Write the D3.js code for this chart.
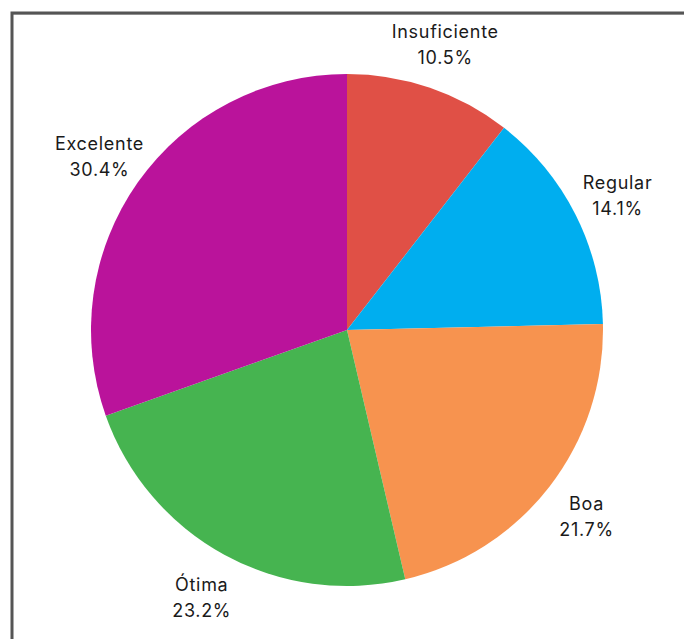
<!DOCTYPE html>
<html><head><meta charset="utf-8">
<script src="https://cdn.jsdelivr.net/npm/d3@7"></script>
<style>html,body{margin:0;padding:0;background:#fff;}svg{display:block;}</style>
</head><body>
<script>
const categories = ["Insuficiente", "Regular", "Boa", "Ótima", "Excelente"];
const values = [10.5, 14.1, 21.7, 23.2, 30.4];
const valueLabels = ["10.5%", "14.1%", "21.7%", "23.2%", "30.4%"];
const colors = ["#E05046", "#00AEEF", "#F7934F", "#46B450", "#BA139B"];

const W = 684, H = 639;
const cx = 347, cy = 330, R = 256, LR = 303;
const svg = d3.select("body").append("svg").attr("width", W).attr("height", H);

// frame
svg.append("line").attr("x1", 12).attr("x2", W).attr("y1", 14.5).attr("y2", 14.5).attr("stroke", "#c8c8c8").attr("stroke-width", 1);
svg.append("path").attr("d", `M12,${H} L12,13 L${W},13`).attr("fill", "none").attr("stroke", "#555").attr("stroke-width", 3);

const data = categories.map((c, i) => ({ name: c, value: values[i], label: valueLabels[i], color: colors[i] }));
const pie = d3.pie().value(d => d.value).sort(null);
const arcs = pie(data);
const arc = d3.arc().innerRadius(0).outerRadius(R);
const g = svg.append("g").attr("transform", `translate(${cx},${cy})`);
g.selectAll("path").data(arcs).join("path").attr("d", arc).attr("fill", d => d.data.color);

const font = "Inter, 'DejaVu Sans', sans-serif";
const lg = g.selectAll("g.lab").data(arcs).join("g").attr("class", "lab")
  .attr("transform", d => {
    const a = (d.startAngle + d.endAngle) / 2;
    return `translate(${Math.sin(a) * LR},${-Math.cos(a) * LR})`;
  });
lg.append("text").attr("text-anchor", "middle").attr("y", -5)
  .attr("font-family", font).attr("font-size", 18).attr("letter-spacing", 0.7).attr("fill", "#1a1a1a").text(d => d.data.name);
lg.append("text").attr("text-anchor", "middle").attr("y", 21)
  .attr("font-family", font).attr("font-size", 18).attr("letter-spacing", 0.7).attr("fill", "#1a1a1a").text(d => d.data.label);
</script>
</body></html>
